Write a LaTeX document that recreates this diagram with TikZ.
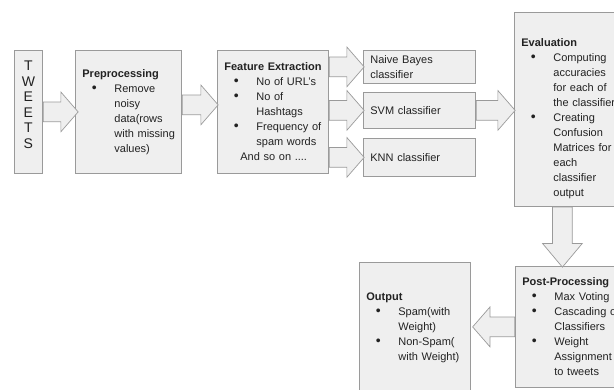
\documentclass[tikz,border=0pt]{standalone}
\usepackage{fontspec}
\setmainfont{Liberation Sans}
\usetikzlibrary{shapes.arrows}
\definecolor{boxfill}{HTML}{EFEFEF}
\definecolor{boxline}{HTML}{9A9A9A}
\definecolor{txt}{HTML}{222222}
\newcommand{\bitem}[1]{\makebox[32pt][l]{\hspace{9.5pt}{\fontsize{14}{15}\selectfont\textbullet}}\mbox{#1}}
\newcommand{\bcont}[1]{\hspace*{32pt}\mbox{#1}}

\begin{document}
\begin{tikzpicture}[x=1pt, y=-1pt,
  box/.style = {draw=boxline, fill=boxfill, line width=0.8pt, anchor=north west,
    inner xsep=7pt, inner ysep=0pt, align=left, text=txt,
    font=\fontsize{11}{15}\selectfont},
  flow/.style = {draw=boxline, fill=boxfill, line width=0.7pt, single arrow,
    inner xsep=0pt, inner ysep=9.5pt, minimum width=39pt, single arrow head extend=10pt,
    single arrow head indent=0pt, single arrow tip angle=98, anchor=tail}]
  \useasboundingbox (0,0) rectangle (614,390);

  % boxes
  \node[box, text width=14pt, minimum height=123pt, align=center,
    font=\fontsize{14}{15.5}\selectfont] (tweets) at (14,50)
    {T\\W\\E\\E\\T\\S\rule[-14pt]{0pt}{14pt}};
  \node[box, text width=92pt, minimum height=123pt] (pre) at (75,50)
    {\mbox{\textbf{Preprocessing}}\\ \bitem{Remove}\\ \bcont{noisy}\\ \bcont{data(rows}\\
     \bcont{with missing}\\ \bcont{values)}};
  \node[box, text width=97pt, minimum height=123pt] (feat) at (217,50)
    {\mbox{\textbf{Feature Extraction}}\\ \bitem{No of URL’s}\\ \bitem{No of}\\ \bcont{Hashtags}\\
     \bitem{Frequency of}\\ \bcont{spam words}\\ \hspace*{16pt}\mbox{And so on ....}};
  \node[box, text width=98pt, minimum height=33pt] (nb) at (363,50) {Naive Bayes\\classifier};
  \node[box, text width=98pt, minimum height=36pt] (svm) at (363,92) {SVM classifier};
  \node[box, text width=98pt, minimum height=38pt] (knn) at (363,138) {KNN classifier};
  \node[box, text width=94pt, minimum height=194pt] (eval) at (514,12)
    {\mbox{\textbf{Evaluation}}\rule{0pt}{27pt}\\ \bitem{Computing}\\ \bcont{accuracies}\\
     \bcont{for each of}\\ \bcont{the classifier}\\ \bitem{Creating}\\ \bcont{Confusion}\\
     \bcont{Matrices for}\\ \bcont{each}\\ \bcont{classifier}\\ \bcont{output}};
  \node[box, text width=93pt, minimum height=121pt] (post) at (515,266)
    {\mbox{\textbf{Post-Processing}}\\ \bitem{Max Voting}\\ \bitem{Cascading of}\\
     \bcont{Classifiers}\\ \bitem{Weight}\\ \bcont{Assignment}\\ \bcont{to tweets}};
  \node[box, text width=97pt, minimum height=130pt] (out) at (359,262)
    {\mbox{\textbf{Output}}\\ \bitem{Spam(with}\\ \bcont{Weight)}\\ \bitem{Non-Spam(}\\
     \bcont{with Weight)}};

  % block arrows
  \node[flow, minimum height=35pt] (a1) at (tweets.east) {};
  \node[flow, minimum height=36pt] (a2) at ([yshift=7pt]pre.east) {};
  \node[flow, minimum height=35pt] (a3) at (feat.east |- nb.west) {};
  \node[flow, minimum height=35pt] (a4) at (feat.east |- svm.west) {};
  \node[flow, minimum height=35pt] (a5) at (feat.east |- knn.west) {};
  \node[flow, minimum height=39pt] (a6) at (svm.east) {};
  \node[flow, minimum height=60pt, rotate=-90, single arrow tip angle=80]
    (a7) at ([xshift=-6pt]eval.south) {};
  \node[flow, minimum height=42pt, rotate=180] (a8) at (post.west) {};
\end{tikzpicture}
\end{document}
